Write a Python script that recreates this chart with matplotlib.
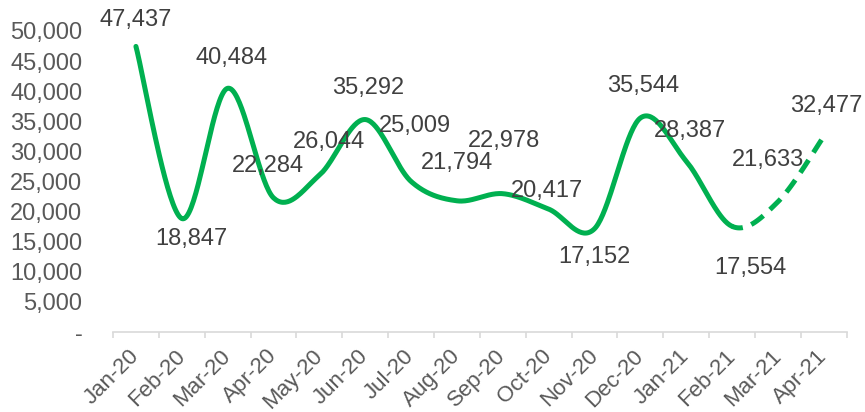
import numpy as np
import matplotlib.pyplot as plt
from matplotlib.ticker import FuncFormatter, FixedLocator

# data
months = ['Jan-20', 'Feb-20', 'Mar-20', 'Apr-20', 'May-20', 'Jun-20', 'Jul-20', 'Aug-20',
          'Sep-20', 'Oct-20', 'Nov-20', 'Dec-20', 'Jan-21', 'Feb-21', 'Mar-21', 'Apr-21']
values = [47437, 18847, 40484, 22284, 26044, 35292, 25009, 21794,
          22978, 20417, 17152, 35544, 28387, 17554, 21633, 32477]
n_actual = 14  # solid up to Feb-21, dashed after

# label offsets in points (dx, dy)
label_offsets = [(0, 19), (7, -15), (3, 22), (-4, 23), (7, 24), (2, 23), (3, 40), (0, 27),
                 (1, 38), (-1, 13), (0, -20), (2, 23), (3, 22), (13, -30), (-7, 30), (2, 22)]

green = '#00B050'
plt.rcParams['font.family'] = ['Liberation Sans', 'DejaVu Sans']


def smooth(xs, ys, steps=40):
    # catmull-rom like excel's smoothed line, one piece per segment
    xs = np.asarray(xs, float)
    ys = np.asarray(ys, float)
    px = np.concatenate([[xs[0]], xs, [xs[-1]]])
    py = np.concatenate([[ys[0]], ys, [ys[-1]]])
    segs = []
    for i in range(1, len(px) - 2):
        p0, p1, p2, p3 = px[i-1], px[i], px[i+1], px[i+2]
        q0, q1, q2, q3 = py[i-1], py[i], py[i+1], py[i+2]
        c1x, c1y = p1 + (p2 - p0) / 6, q1 + (q2 - q0) / 6
        c2x, c2y = p2 - (p3 - p1) / 6, q2 - (q3 - q1) / 6
        t = np.linspace(0, 1, steps)
        a, b, c, d = (1-t)**3, 3*(1-t)**2*t, 3*(1-t)*t**2, t**3
        segs.append((a*p1 + b*c1x + c*c2x + d*p2, a*q1 + b*c1y + c*c2y + d*q2))
    return segs


fig = plt.figure(figsize=(8.65, 4.12), dpi=100)
ax = fig.add_axes([113/865, (412-332)/412, (846.7-113)/865, (332-31)/412])

x = np.arange(len(months))
segs = smooth(x, values)
solid = segs[:n_actual-1]
dashed = segs[n_actual-1:]
ax.plot(np.concatenate([s[0] for s in solid]), np.concatenate([s[1] for s in solid]),
        color=green, lw=3.6, solid_capstyle='round')
ax.plot(np.concatenate([s[0] for s in dashed]), np.concatenate([s[1] for s in dashed]),
        color=green, lw=3.6, linestyle=(0.8, (3.0, 1.8)), dash_capstyle='butt')

for i, v in enumerate(values):
    dx, dy = label_offsets[i]
    ax.annotate('{:,}'.format(v), (x[i], v), xytext=(dx, dy), textcoords='offset points',
                ha='center', va='center', fontsize=17, color='#404040', clip_on=False)

ax.set_xlim(-0.5, len(months) - 0.5)
ax.set_ylim(0, 50000)
ax.set_yticks(np.arange(0, 50001, 5000))
ax.yaxis.set_major_formatter(FuncFormatter(lambda v, p: '-' if v == 0 else '{:,.0f}'.format(v)))
ax.set_xticks(x)
ax.set_xticklabels(months, rotation=45, ha='right', va='center', rotation_mode='anchor')
ax.xaxis.set_minor_locator(FixedLocator(np.arange(-0.5, len(months), 1)))

for s in ['top', 'right', 'left']:
    ax.spines[s].set_visible(False)
ax.spines['bottom'].set_color('#D9D9D9')
ax.spines['bottom'].set_linewidth(1.2)
ax.tick_params(axis='x', which='major', length=0, pad=15, labelsize=16, labelcolor='#595959')
ax.tick_params(axis='x', which='minor', length=4, width=1.2, color='#D9D9D9', direction='out')
ax.tick_params(axis='y', length=0, pad=22, labelsize=17, labelcolor='#595959')

fig.savefig('out.png', dpi=100)
